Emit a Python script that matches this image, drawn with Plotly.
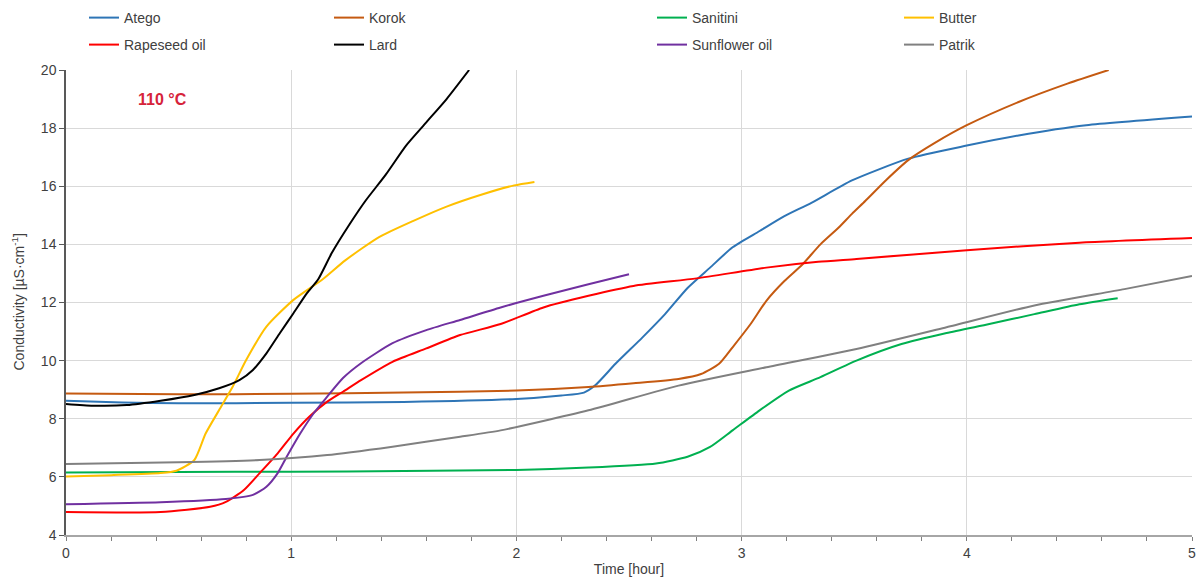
import plotly.graph_objects as go

# Conductivity curves at 110 °C, time in hours
atego_t = [0, 0.25, 0.5, 1.0, 1.5, 2.0, 2.2, 2.3, 2.35, 2.44, 2.56, 2.66, 2.76, 2.86, 2.96,
           3.08, 3.19, 3.31, 3.49, 3.74, 4.0, 4.23, 4.53, 5.0]
atego_v = [8.62, 8.56, 8.53, 8.55, 8.58, 8.68, 8.8, 8.9, 9.15, 9.89, 10.8, 11.6, 12.5, 13.2, 13.9,
           14.46, 14.97, 15.43, 16.2, 16.95, 17.4, 17.75, 18.1, 18.4]

korok_t = [0, 0.5, 1.0, 1.5, 2.0, 2.32, 2.52, 2.72, 2.82, 2.9, 2.96, 3.04, 3.11, 3.19, 3.27,
           3.35, 3.43, 3.49, 3.55, 3.64, 3.74, 3.86, 4.0, 4.23, 4.45, 4.63]
korok_v = [8.87, 8.84, 8.86, 8.9, 8.97, 9.09, 9.22, 9.37, 9.54, 9.89, 10.46, 11.26, 12.06, 12.74, 13.31,
           14.0, 14.57, 15.05, 15.5, 16.2, 16.9, 17.5, 18.1, 18.9, 19.54, 20.0]

sanitini_t = [0, 0.5, 1.0, 1.5, 2.0, 2.32, 2.62, 2.76, 2.86, 2.96, 3.08, 3.21, 3.35, 3.51, 3.71,
              3.91, 4.1, 4.3, 4.5, 4.67]
sanitini_v = [6.15, 6.17, 6.18, 6.2, 6.24, 6.32, 6.46, 6.69, 7.03, 7.6, 8.29, 8.97, 9.43, 10.0, 10.57,
              10.95, 11.26, 11.6, 11.94, 12.15]

butter_t = [0, 0.2, 0.42, 0.49, 0.57, 0.62, 0.68, 0.74, 0.80, 0.89, 1.01, 1.14, 1.24, 1.39, 1.54,
            1.69, 1.84, 1.99, 2.08]
butter_v = [6.01, 6.06, 6.13, 6.21, 6.58, 7.49, 8.3, 9.1, 10.02, 11.17, 12.09, 12.8, 13.45, 14.25, 14.8,
            15.3, 15.7, 16.03, 16.15]

rapeseed_t = [0, 0.42, 0.64, 0.71, 0.79, 0.86, 0.94, 1.01, 1.08, 1.16, 1.23, 1.31, 1.45, 1.60, 1.75,
              1.93, 2.12, 2.32, 2.52, 2.80, 3.11, 3.34, 3.51, 4.0, 4.5, 5.0]
rapeseed_v = [4.79, 4.79, 4.97, 5.14, 5.55, 6.13, 6.81, 7.49, 8.07, 8.59, 8.93, 9.33, 9.96, 10.42, 10.88,
              11.26, 11.83, 12.23, 12.57, 12.83, 13.2, 13.4, 13.5, 13.8, 14.06, 14.22]

lard_t = [0, 0.12, 0.27, 0.42, 0.57, 0.68, 0.77, 0.83, 0.89, 0.95, 1.01, 1.07, 1.12, 1.18, 1.26,
          1.33, 1.42, 1.51, 1.60, 1.69, 1.79]
lard_v = [8.51, 8.45, 8.47, 8.62, 8.82, 9.05, 9.33, 9.68, 10.25, 10.95, 11.63, 12.32, 12.8, 13.7, 14.7,
          15.5, 16.4, 17.4, 18.2, 19.0, 20.0]

sunflower_t = [0, 0.42, 0.71, 0.83, 0.89, 0.94, 0.98, 1.04, 1.10, 1.16, 1.23, 1.31, 1.45, 1.60, 1.75,
               1.93, 2.12, 2.32, 2.5]
sunflower_v = [5.06, 5.13, 5.24, 5.38, 5.66, 6.13, 6.69, 7.49, 8.19, 8.76, 9.4, 9.91, 10.6, 11.05, 11.40,
               11.83, 12.23, 12.63, 12.97]

patrik_t = [0, 0.5, 0.86, 1.16, 1.45, 1.75, 1.93, 2.32, 2.72, 3.11, 3.51, 3.91, 4.30, 4.70, 5.0]
patrik_v = [6.44, 6.5, 6.58, 6.75, 7.04, 7.38, 7.6, 8.29, 9.14, 9.77, 10.4, 11.15, 11.9, 12.46, 12.91]

series = [
    ("Atego", atego_t, atego_v, "#2E75B6"),
    ("Korok", korok_t, korok_v, "#C55A11"),
    ("Sanitini", sanitini_t, sanitini_v, "#00B050"),
    ("Butter", butter_t, butter_v, "#FFC000"),
    ("Rapeseed oil", rapeseed_t, rapeseed_v, "#FF0000"),
    ("Lard", lard_t, lard_v, "#000000"),
    ("Sunflower oil", sunflower_t, sunflower_v, "#7030A0"),
    ("Patrik", patrik_t, patrik_v, "#808080"),
]

W, H = 1200, 581
ML, MR, MT, MB = 66, 8, 70, 46
PW = W - ML - MR

# legend entry positions (pixels): four columns, two rows
leg_cols = [84, 329, 652, 899]
leg_rows = [18, 45]

FONT = "Liberation Sans, Arial, sans-serif"

fig = go.Figure()
layout_legends = {}
for i, (name, t, v, col) in enumerate(series):
    key = "legend" if i == 0 else f"legend{i + 1}"
    fig.add_trace(go.Scatter(
        x=t, y=v, name=name, mode="lines",
        line=dict(color=col, width=2, shape="spline", smoothing=0.6),
        legend=key,
    ))
    cx = leg_cols[i % 4]
    cy = leg_rows[i // 4]
    layout_legends[key] = dict(
        xref="container", yref="container",
        x=cx / W, y=1 - cy / H,
        xanchor="left", yanchor="middle",
        bgcolor="rgba(0,0,0,0)", borderwidth=0,
        font=dict(family=FONT, size=14, color="#404040"),
        itemwidth=30,
    )

fig.update_layout(
    width=W, height=H,
    margin=dict(l=ML, r=MR, t=MT, b=MB, autoexpand=False),
    paper_bgcolor="white", plot_bgcolor="white",
    font=dict(family=FONT, size=14, color="#404040"),
    showlegend=True,
    **layout_legends,
)

fig.update_xaxes(
    range=[0, 5], dtick=1, tick0=0,
    showgrid=True, gridcolor="#D9D9D9", gridwidth=1,
    zeroline=False,
    showline=True, linecolor="#A6A6A6", linewidth=2,
    ticks="outside", ticklen=4, tickcolor="#7F7F7F",
    minor=dict(dtick=0.2, ticks="outside", ticklen=4, tickcolor="#7F7F7F", showgrid=False),
    tickfont=dict(size=14, color="#404040"),
    title=dict(text="Time [hour]", font=dict(size=14, color="#404040"), standoff=4),
)
fig.update_yaxes(
    range=[4, 20], dtick=2, tick0=4,
    showgrid=True, gridcolor="#D9D9D9", gridwidth=1,
    zeroline=False,
    showline=True, linecolor="#595959", linewidth=1.5,
    ticks="outside", ticklen=5, tickcolor="#595959",
    tickfont=dict(size=14, color="#404040"),
)

# y-axis title placed beside the tick labels
fig.add_annotation(
    x=(18 - ML) / PW, y=0.5, xref="paper", yref="paper",
    xanchor="center", yanchor="middle", textangle=-90,
    text="Conductivity [µS·cm<sup>-1</sup>]", showarrow=False,
    font=dict(family=FONT, size=14, color="#404040"),
)

fig.add_annotation(
    x=0.31, y=19.0, xref="x", yref="y", xanchor="left", yanchor="middle",
    text="<b>110 °C</b>", showarrow=False,
    font=dict(family=FONT, size=16, color="#D6233A"),
)

fig.write_html("out.html")
